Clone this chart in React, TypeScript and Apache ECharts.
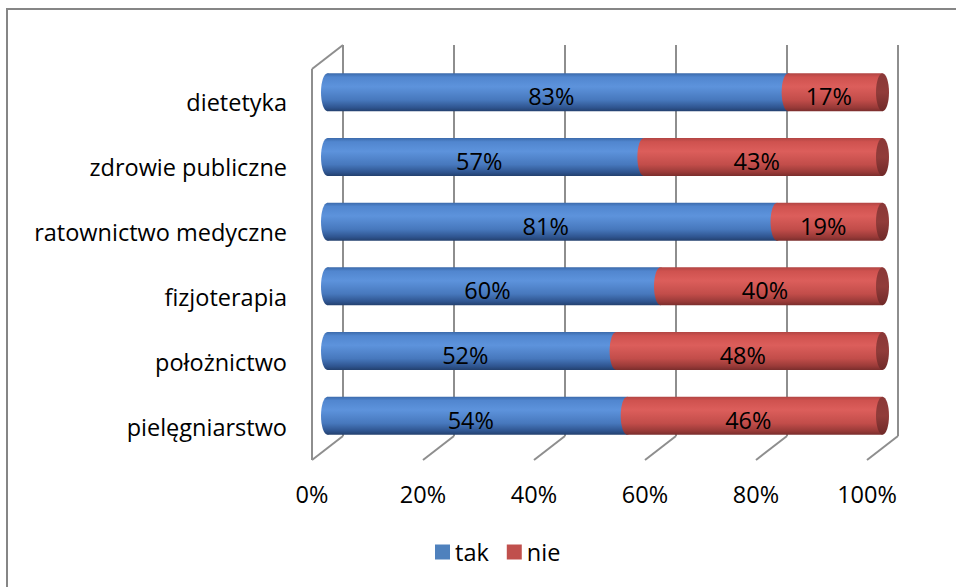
import React, { useEffect, useRef } from "react";
import * as echarts from "echarts";

const categories = [
  "dietetyka",
  "zdrowie publiczne",
  "ratownictwo medyczne",
  "fizjoterapia",
  "położnictwo",
  "pielęgniarstwo",
];
const tak = [83, 57, 81, 60, 52, 54];
const nie = [17, 43, 19, 40, 48, 46];
const xTicks = [0, 20, 40, 60, 80, 100];
const seriesNames = ["tak", "nie"];

const FONT = "'Open Sans', 'Noto Sans', sans-serif";
const FONT_SIZE = 23.5;

// depth offsets of the 3D box, relative to the mid-depth plane where cylinders sit
const DX = 15.5;
const DY_TOP = 15;
const DY_BOTTOM = 12;

const BLUE_GRAD = {
  type: "linear",
  x: 0,
  y: 0,
  x2: 0,
  y2: 1,
  colorStops: [
    { offset: 0, color: "#3b6aab" },
    { offset: 0.1, color: "#5186cf" },
    { offset: 0.35, color: "#5d93dc" },
    { offset: 0.7, color: "#4778bd" },
    { offset: 0.9, color: "#2f5590" },
    { offset: 1, color: "#23406e" },
  ],
};
const RED_GRAD = {
  type: "linear",
  x: 0,
  y: 0,
  x2: 0,
  y2: 1,
  colorStops: [
    { offset: 0, color: "#b14543" },
    { offset: 0.1, color: "#cf524f" },
    { offset: 0.35, color: "#dc5e5b" },
    { offset: 0.7, color: "#c24d4a" },
    { offset: 0.9, color: "#993a38" },
    { offset: 1, color: "#7a2d2c" },
  ],
};
const CAP_GRAD = {
  type: "linear",
  x: 0,
  y: 0,
  x2: 0,
  y2: 1,
  colorStops: [
    { offset: 0, color: "#8a3837" },
    { offset: 0.5, color: "#913c3a" },
    { offset: 1, color: "#6f2928" },
  ],
};

function cylinderRenderer(fill: any, capped: boolean) {
  return (params: any, api: any) => {
    const v0 = api.value(0);
    const v1 = api.value(1);
    const cat = api.value(2);
    const a = api.coord([v0, cat]);
    const b = api.coord([v1, cat]);
    const cy = a[1];
    const r = 19;
    const rx = 6.5;
    const children: any[] = [
      {
        type: "ellipse",
        shape: { cx: a[0], cy, rx, ry: r },
        style: { fill },
      },
      {
        type: "rect",
        shape: { x: a[0], y: cy - r, width: b[0] - a[0], height: 2 * r },
        style: { fill },
      },
    ];
    if (capped) {
      children.push({
        type: "ellipse",
        shape: { cx: b[0], cy, rx, ry: r },
        style: { fill: CAP_GRAD },
      });
    }
    children.push({
      type: "text",
      style: {
        text: `${Math.round(v1 - v0)}%`,
        x: (a[0] + b[0]) / 2 - 6.5,
        y: cy + 4,
        align: "center",
        verticalAlign: "middle",
        fontSize: FONT_SIZE,
        fontFamily: FONT,
        fill: "#000",
      },
    });
    return { type: "group", children };
  };
}

function frameRenderer(params: any, api: any) {
  const v = api.value(0);
  const x = api.coord([v, 0])[0];
  const cs = params.coordSys;
  const backTop = cs.y - DY_TOP;
  const backBottom = cs.y + cs.height - DY_BOTTOM;
  const frontTop = cs.y + 9;
  const frontBottom = cs.y + cs.height + DY_BOTTOM;
  const lineStyle = { stroke: "#8e8e8e", lineWidth: 2 };
  const children: any[] = [
    {
      type: "line",
      shape: { x1: x + DX, y1: backTop, x2: x + DX, y2: backBottom },
      style: lineStyle,
    },
    {
      type: "line",
      shape: { x1: x + DX, y1: backBottom, x2: x - DX, y2: frontBottom },
      style: lineStyle,
    },
  ];
  if (params.dataIndex === 0) {
    children.push(
      {
        type: "line",
        shape: { x1: x - DX, y1: frontTop, x2: x - DX, y2: frontBottom },
        style: lineStyle,
      },
      {
        type: "line",
        shape: { x1: x - DX, y1: frontTop, x2: x + DX, y2: backTop },
        style: lineStyle,
      }
    );
  }
  return { type: "group", children };
}

export default function App() {
  const ref = useRef<HTMLDivElement>(null);

  useEffect(() => {
    if (!ref.current) return;
    const chart = echarts.init(ref.current, null, { renderer: "svg" });

    const takData = categories.map((_, i) => [0, tak[i], i]);
    const nieData = categories.map((_, i) => [tak[i], tak[i] + nie[i], i]);

    chart.setOption({
      animation: false,
      backgroundColor: "#ffffff",
      textStyle: { fontFamily: FONT },
      grid: [
        // mid-depth plane: cylinders and back-wall frame
        { left: 327.5, top: 60, width: 555, height: 388 },
        // front plane: axis labels
        { left: 312, top: 69, width: 555, height: 391 },
      ],
      xAxis: [
        { type: "value", gridIndex: 0, min: 0, max: 100, interval: 20, show: false },
        {
          type: "value",
          gridIndex: 1,
          min: 0,
          max: 100,
          interval: 20,
          axisLine: { show: false },
          axisTick: { show: false },
          splitLine: { show: false },
          axisLabel: {
            formatter: "{value}%",
            margin: 22,
            fontSize: FONT_SIZE,
            fontFamily: FONT,
            color: "#000",
          },
        },
      ],
      yAxis: [
        {
          type: "category",
          gridIndex: 0,
          data: categories,
          inverse: true,
          show: false,
        },
        {
          type: "category",
          gridIndex: 1,
          data: categories,
          inverse: true,
          axisLine: { show: false },
          axisTick: { show: false },
          splitLine: { show: false },
          axisLabel: {
            margin: 25,
            fontSize: FONT_SIZE,
            fontFamily: FONT,
            color: "#000",
          },
        },
      ],
      legend: {
        data: seriesNames,
        left: 430,
        top: 535,
        icon: "rect",
        itemWidth: 15,
        itemHeight: 15,
        itemGap: 18,
        textStyle: { fontSize: FONT_SIZE, fontFamily: FONT, color: "#000" },
      },
      graphic: [
        {
          type: "rect",
          z: -10,
          shape: { x: 7, y: 9, width: 1000, height: 1000 },
          style: { fill: "none", stroke: "#868686", lineWidth: 2 },
        },
      ],
      series: [
        {
          type: "custom",
          name: "frame",
          xAxisIndex: 0,
          yAxisIndex: 0,
          clip: false,
          silent: true,
          renderItem: frameRenderer,
          encode: { x: 0, y: 1 },
          data: xTicks.map((t) => [t, 0]),
          z: 1,
        },
        {
          type: "custom",
          name: seriesNames[0],
          xAxisIndex: 0,
          yAxisIndex: 0,
          clip: false,
          itemStyle: { color: "#4f81bd" },
          renderItem: cylinderRenderer(BLUE_GRAD, false),
          encode: { x: [0, 1], y: 2 },
          data: takData,
          z: 2,
        },
        {
          type: "custom",
          name: seriesNames[1],
          xAxisIndex: 0,
          yAxisIndex: 0,
          clip: false,
          itemStyle: { color: "#c0504d" },
          renderItem: cylinderRenderer(RED_GRAD, true),
          encode: { x: [0, 1], y: 2 },
          data: nieData,
          z: 3,
        },
      ],
    });

    return () => chart.dispose();
  }, []);

  return (
    <div
      ref={ref}
      style={{ position: "fixed", left: 0, top: 0, width: 956, height: 587 }}
    />
  );
}
